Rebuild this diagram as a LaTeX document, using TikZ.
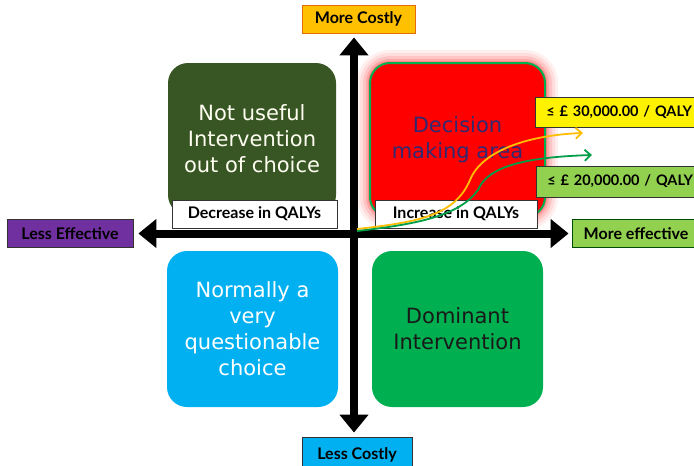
\documentclass[tikz,border=0pt]{standalone}
\usepackage{fontspec}
\setmainfont{DejaVu Sans}
\newfontfamily\lblfont{Lato}
\usetikzlibrary{arrows.meta}

\definecolor{darkolive}{HTML}{375623}
\definecolor{cyanq}{HTML}{00B0F0}
\definecolor{greenq}{HTML}{00B050}
\definecolor{lightgreen}{HTML}{92D050}
\definecolor{purpleq}{HTML}{7030A0}
\definecolor{goldq}{HTML}{FFC000}
\definecolor{navytext}{HTML}{322A70}
\definecolor{orangeborder}{HTML}{E46C0A}

\begin{document}
\begin{tikzpicture}[x=1pt,y=-1pt,
  quad/.style={rounded corners=20pt, inner sep=0pt, align=center,
    font=\fontsize{21}{26}\selectfont},
  tag/.style={draw=black!80, line width=0.8pt, inner sep=0pt,
    font=\lblfont\bfseries\fontsize{16}{18}\selectfont},
  limit/.style={tag, anchor=west, minimum width=175pt, text width=163pt,
    inner xsep=11pt, align=left, font=\lblfont\bfseries\fontsize{14.5}{17}\selectfont},
  axis/.style={line width=8pt,
    {Triangle[length=18pt,width=28pt]}-{Triangle[length=18pt,width=28pt]}},
  curve/.style={line width=1.8pt, -{Straight Barb[length=6pt,width=11pt]}}]

\useasboundingbox (0,0) rectangle (694,466);
\fill[white] (0,0) rectangle (694,466);

% soft red halo round the decision quadrant
\foreach \w/\o in {26/0.06,20/0.08,14/0.11,8/0.15,4/0.2}
  \draw[red, line width=\w pt, opacity=\o, rounded corners=20pt]
    (370,63) rectangle (545,217);

% the four quadrants
\node[quad, fill=darkolive, text=white!95!yellow, minimum width=168pt, minimum height=152pt]
  (notuseful) at (252,139) {Not useful\\Intervention\\out of choice};
\node[quad, fill=red, draw=greenq, line width=2pt, text=navytext,
  minimum width=175pt, minimum height=154pt]
  (decision) at (457.5,140) {Decision\\making area};
\node[quad, fill=cyanq, text=white, minimum width=171pt, minimum height=156pt]
  (questionable) at (252.5,329) {Normally a\\very\\questionable\\choice};
\node[quad, fill=greenq, text=black!90, minimum width=171pt, minimum height=156pt]
  (dominant) at (457.5,329) {Dominant\\Intervention};

% QALY labels
\node[tag, fill=white, minimum width=165pt, minimum height=28pt]
  (decrease) at (254.5,214) {Decrease in QALYs};
\node[tag, fill=white, minimum width=162pt, minimum height=28pt]
  (increase) at (456,214) {Increase in QALYs};

% axis end labels
\node[tag, fill=goldq, draw=orangeborder, minimum width=113pt, minimum height=28pt]
  (morecostly) at (358.5,19) {More Costly};
\node[tag, fill=cyanq, minimum width=110pt, minimum height=36pt]
  (lesscostly) at (357,455) {Less Costly};
\node[tag, fill=purpleq, minimum width=126pt, minimum height=28pt]
  (lesseff) at (70,233.5) {Less Effective};
\node[tag, fill=lightgreen, draw=black!70!green, minimum width=128pt, minimum height=28pt]
  (moreeff) at (636,233.5) {More effective};

% threshold labels
\node[limit, fill=yellow, minimum height=30pt]
  (thirty) at (535,112) {≤ £ 30,000.00 / QALY};
\node[limit, fill=lightgreen, minimum height=31pt]
  (twenty) at (536,181.5) {≤ £ 20,000.00 / QALY};

% axes
\coordinate (origin) at (354,233.5);
\draw[axis, shorten <=5pt, shorten >=3pt] (lesseff.east) -- (moreeff.west);
\draw[axis, shorten <=4pt, shorten >=4pt]
  (morecostly.south -| origin) -- (lesscostly.north -| origin);

% threshold curves
\coordinate (ostart) at (357,229);
\coordinate (gstart) at (357,231);
\coordinate (oend) at (583,133);
\coordinate (gend) at (592,155);
\draw[curve, goldq!95!orange] (ostart) .. controls (420,222) and (455,215) .. (470,180)
  .. controls (482,150) and (530,135) .. (oend);
\draw[curve, greenq!90!black] (gstart) .. controls (420,224) and (460,215) .. (478,190)
  .. controls (488,165) and (530,157) .. (gend);
\end{tikzpicture}
\end{document}
